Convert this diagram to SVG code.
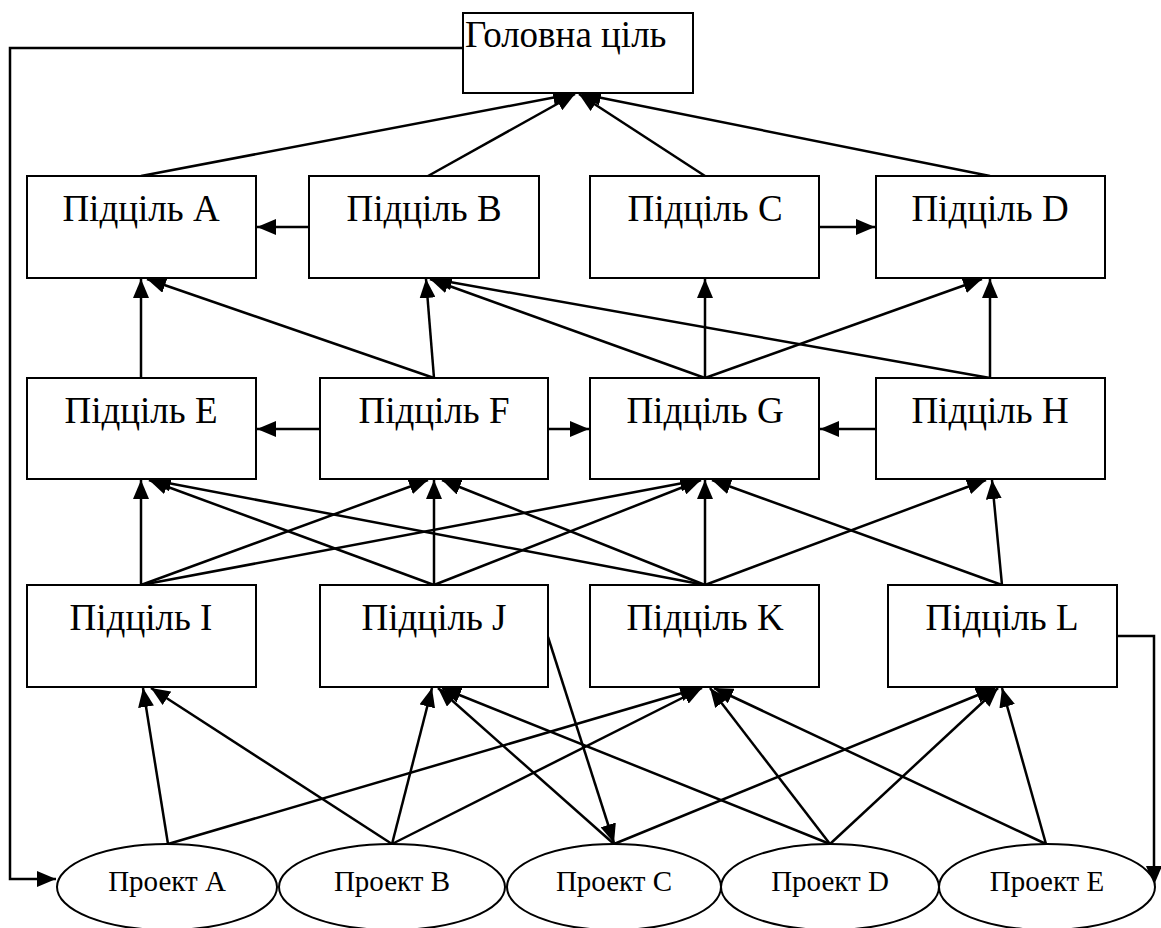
<svg xmlns="http://www.w3.org/2000/svg" width="1161" height="928" viewBox="0 0 1161 928">
<style>
.box{fill:#fff;stroke:#000;stroke-width:2}
.ell{fill:#fff;stroke:#000;stroke-width:2}
.t{font-family:"Liberation Serif","Times New Roman",serif;font-size:37px;fill:#000;text-anchor:middle}
.tp{font-family:"Liberation Serif","Times New Roman",serif;font-size:29px;fill:#000;text-anchor:middle}
.c line,.c polyline{stroke:#000;stroke-width:2.5;fill:none;marker-end:url(#ah)}
</style>
<defs>
<marker id="ah" markerUnits="userSpaceOnUse" markerWidth="19" markerHeight="16" refX="19" refY="8" orient="auto">
<path d="M0,0 L19,8 L0,16 z" fill="#000"/>
</marker>
</defs>
<rect width="1161" height="928" fill="#fff"/>
<g id="connectors" class="c">
<polyline points="463,48 10,48 10,879 56,879"/>
<polyline points="1117,636 1154,636 1154,885"/>
<line x1="141" y1="176" x2="572" y2="94"/>
<line x1="428" y1="176" x2="575" y2="94"/>
<line x1="705" y1="176" x2="579" y2="94"/>
<line x1="990" y1="176" x2="582" y2="94"/>
<line x1="309" y1="227" x2="257" y2="227"/>
<line x1="819" y1="227" x2="875" y2="227"/>
<line x1="320" y1="429" x2="257" y2="429"/>
<line x1="548" y1="429" x2="589" y2="429"/>
<line x1="876" y1="429" x2="820" y2="429"/>
<line x1="141" y1="378" x2="141" y2="279"/>
<line x1="434" y1="378" x2="147" y2="279"/>
<line x1="434" y1="378" x2="426" y2="279"/>
<line x1="705" y1="378" x2="430" y2="279"/>
<line x1="990" y1="378" x2="433" y2="279"/>
<line x1="705" y1="378" x2="705" y2="279"/>
<line x1="705" y1="378" x2="982" y2="279"/>
<line x1="990" y1="378" x2="990" y2="279"/>
<line x1="141" y1="585" x2="141" y2="480"/>
<line x1="141" y1="585" x2="428" y2="480"/>
<line x1="141" y1="585" x2="699" y2="480"/>
<line x1="434" y1="585" x2="149" y2="480"/>
<line x1="434" y1="585" x2="434" y2="480"/>
<line x1="434" y1="585" x2="701" y2="480"/>
<line x1="705" y1="585" x2="152" y2="480"/>
<line x1="705" y1="585" x2="442" y2="480"/>
<line x1="705" y1="585" x2="705" y2="480"/>
<line x1="705" y1="585" x2="986" y2="480"/>
<line x1="1002" y1="585" x2="712" y2="480"/>
<line x1="1002" y1="585" x2="992" y2="480"/>
<line x1="168" y1="844" x2="143" y2="688"/>
<line x1="168" y1="844" x2="699" y2="688"/>
<line x1="392" y1="844" x2="151" y2="688"/>
<line x1="392" y1="844" x2="432" y2="688"/>
<line x1="392" y1="844" x2="702" y2="688"/>
<line x1="614" y1="844" x2="438" y2="688"/>
<line x1="614" y1="844" x2="995" y2="688"/>
<line x1="830" y1="844" x2="442" y2="688"/>
<line x1="830" y1="844" x2="710" y2="688"/>
<line x1="830" y1="844" x2="998" y2="688"/>
<line x1="1046" y1="844" x2="714" y2="688"/>
<line x1="1046" y1="844" x2="1002" y2="688"/>
<line x1="548" y1="637" x2="614" y2="843"/>
</g>
<g id="goal"><rect class="box" x="463" y="13" width="230" height="80"/><text class="t" x="465" y="47" style="text-anchor:start">Головна ціль</text></g>
<g id="subA"><rect class="box" x="27" y="176" width="229" height="102"/><text class="t" x="141" y="221">Підціль A</text></g>
<g id="subB"><rect class="box" x="309" y="176" width="230" height="102"/><text class="t" x="424" y="221">Підціль B</text></g>
<g id="subC"><rect class="box" x="590" y="176" width="229" height="102"/><text class="t" x="705" y="221">Підціль C</text></g>
<g id="subD"><rect class="box" x="876" y="176" width="229" height="102"/><text class="t" x="990" y="221">Підціль D</text></g>
<g id="subE"><rect class="box" x="27" y="378" width="229" height="101"/><text class="t" x="141" y="423">Підціль E</text></g>
<g id="subF"><rect class="box" x="320" y="378" width="228" height="101"/><text class="t" x="434" y="423">Підціль F</text></g>
<g id="subG"><rect class="box" x="590" y="378" width="229" height="101"/><text class="t" x="705" y="423">Підціль G</text></g>
<g id="subH"><rect class="box" x="876" y="378" width="229" height="101"/><text class="t" x="990" y="423">Підціль H</text></g>
<g id="subI"><rect class="box" x="27" y="585" width="229" height="102"/><text class="t" x="141" y="630">Підціль I</text></g>
<g id="subJ"><rect class="box" x="320" y="585" width="228" height="102"/><text class="t" x="434" y="630">Підціль J</text></g>
<g id="subK"><rect class="box" x="590" y="585" width="229" height="102"/><text class="t" x="705" y="630">Підціль K</text></g>
<g id="subL"><rect class="box" x="888" y="585" width="229" height="102"/><text class="t" x="1002" y="630">Підціль L</text></g>
<g id="projA"><ellipse class="ell" cx="167" cy="887" rx="110" ry="43"/><text class="tp" x="167" y="891">Проект A</text></g>
<g id="projB"><ellipse class="ell" cx="392" cy="887" rx="113" ry="43"/><text class="tp" x="392" y="891">Проект B</text></g>
<g id="projC"><ellipse class="ell" cx="614" cy="887" rx="107" ry="43"/><text class="tp" x="614" y="891">Проект C</text></g>
<g id="projD"><ellipse class="ell" cx="830" cy="887" rx="109" ry="43"/><text class="tp" x="830" y="891">Проект D</text></g>
<g id="projE"><ellipse class="ell" cx="1047" cy="887" rx="108" ry="43"/><text class="tp" x="1047" y="891">Проект E</text></g>
</svg>
